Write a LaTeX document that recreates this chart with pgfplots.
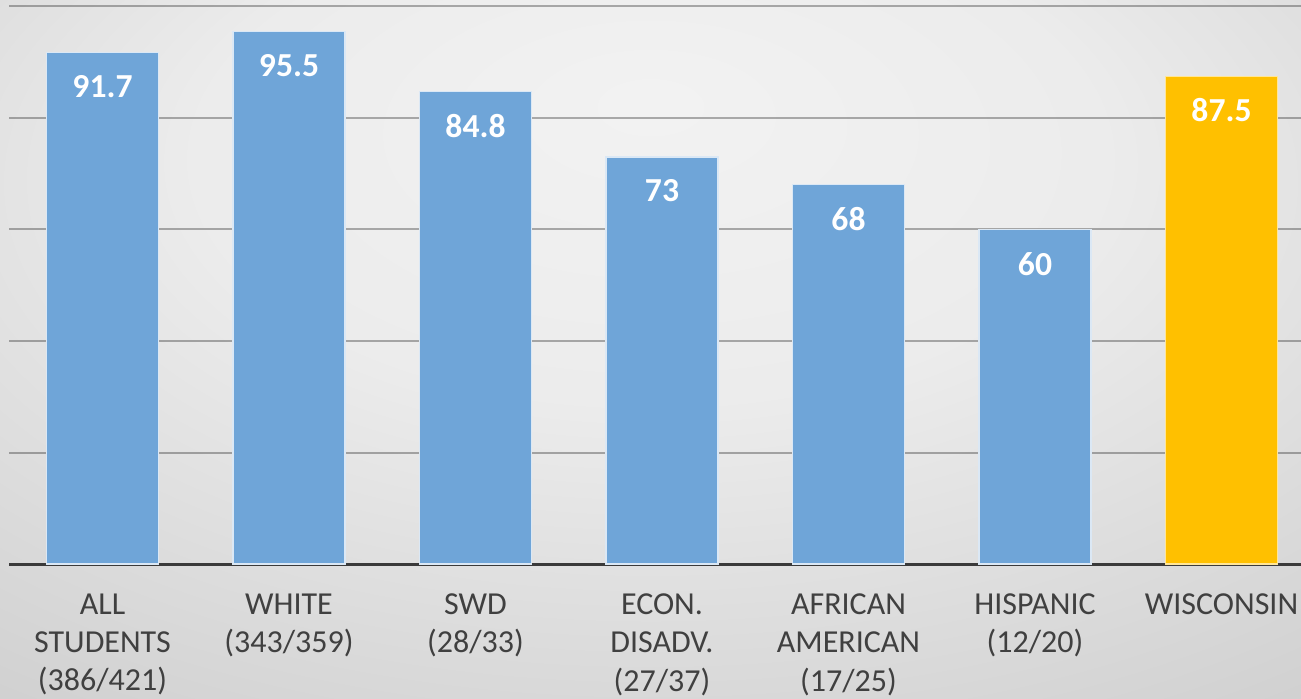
\documentclass[border=0pt]{standalone}
\usepackage{pgfplots}
\pgfplotsset{compat=1.18}
\usepackage{fontspec}
\setmainfont{Carlito}
\definecolor{barblue}{HTML}{6FA5D8}
\definecolor{baryellow}{HTML}{FFC000}
\definecolor{txt}{HTML}{404040}
\definecolor{bgA}{gray}{0.950}
\definecolor{bgB}{gray}{0.925}
\definecolor{bgC}{gray}{0.780}
\pgfdeclareradialshading{bgshade}{\pgfpoint{0bp}{17.8bp}}{color(0bp)=(bgA); color(17.5bp)=(bgB); color(50bp)=(bgC); color(75bp)=(bgC)}
\begin{document}
\begin{tikzpicture}
\useasboundingbox (0,0) rectangle (650.5pt,349pt);
\shade[shading=bgshade] (0,0) rectangle (650.5pt,349pt);
\begin{axis}[
  at={(4.625pt,67pt)}, anchor=south west,
  scale only axis, width=652.75pt, height=281.55pt,
  xmin=-0.5, xmax=6.5, ymin=0, ymax=101,
  axis y line=left, axis x line=bottom,
  y axis line style={draw=none},
  x axis line style={-, color=txt!90!black, line width=1.5pt},
  ytick={20,40,60,80,100}, yticklabel=\empty,
  ymajorgrids, major grid style={black, draw opacity=0.3, line width=1pt},
  xtick={0,...,6},
  xticklabels={{ALL\\STUDENTS\\(386/421)},{WHITE\\(343/359)},{SWD\\(28/33)},{ECON.\\DISADV.\\(27/37)},{AFRICAN\\AMERICAN\\(17/25)},{HISPANIC\\(12/20)},{WISCONSIN\\}},
  xticklabel style={align=center, anchor=north, inner sep=0pt, yshift=-14.6pt, text=txt,
     font=\fontsize{16}{19.2}\selectfont, execute at begin node=\strut},
  major tick length=0pt,
  ybar, bar width=56pt, bar shift=0pt,
  point meta=explicit symbolic,
  nodes near coords,
  every node near coord/.append style={anchor=north, inner sep=0pt, yshift=-11pt, text=white,
     font=\fontsize{16.8}{19}\selectfont\bfseries},
  clip=false,
]
\addplot[fill=barblue, draw=white!75!barblue, line width=0.6pt] coordinates {
  (0,91.7) [91.7] (1,95.5) [95.5] (2,84.8) [84.8] (3,73) [73] (4,68) [68] (5,60) [60]};
\addplot[fill=baryellow, draw=white!60!baryellow, line width=0.6pt] coordinates {
  (6,87.5) [87.5]};
\end{axis}
\end{tikzpicture}
\end{document}
